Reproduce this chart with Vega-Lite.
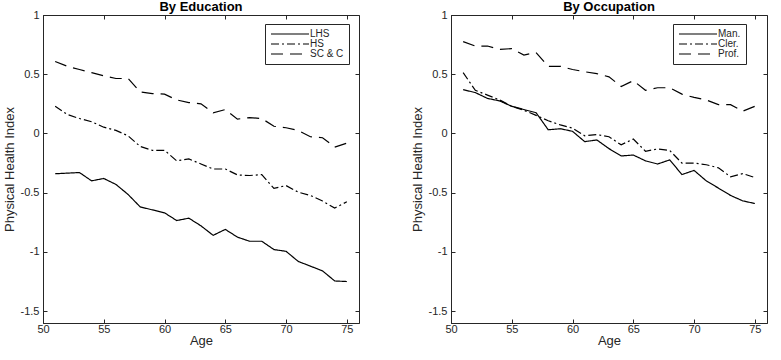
{
  "$schema": "https://vega.github.io/schema/vega-lite/v6.json",
  "padding": {"left": 2, "top": 0, "right": 2, "bottom": 0},
  "autosize": {"type": "pad"},
  "spacing": 50,
  "config": {
    "font": "Liberation Sans",
    "view": {"stroke": "#262626", "strokeWidth": 1},
    "axis": {"grid": false, "minExtent": 0, "domainColor": "#262626", "tickColor": "#262626", "labelColor": "#262626", "titleColor": "#262626", "labelFontSize": 11, "titleFontSize": 13, "titleFontWeight": "normal", "tickSize": -4, "labelPadding": 8, "labelFlush": false},
    "axisX": {"labelPadding": 4, "titlePadding": 0},
    "title": {"fontSize": 13, "fontWeight": "bold", "offset": -5, "color": "#000000"},
    "legend": {"orient": "none", "legendX": 222, "legendY": 9, "strokeColor": "#262626", "fillColor": "white", "padding": 5, "symbolType": "M-1,0H8.5", "symbolStrokeColor": "black", "symbolFillColor": "transparent", "symbolSize": 64, "symbolOffset": 0, "labelOffset": 30, "symbolStrokeWidth": 1.2, "labelFontSize": 10, "labelColor": "#262626", "rowPadding": 0}
  },
  "datasets": {
    "edu": [
      {"group": "LHS", "age": 51, "index": -0.34}, {"group": "LHS", "age": 52, "index": -0.335}, {"group": "LHS", "age": 53, "index": -0.33}, {"group": "LHS", "age": 54, "index": -0.40}, {"group": "LHS", "age": 55, "index": -0.38}, {"group": "LHS", "age": 56, "index": -0.43}, {"group": "LHS", "age": 57, "index": -0.515}, {"group": "LHS", "age": 58, "index": -0.62}, {"group": "LHS", "age": 59, "index": -0.645}, {"group": "LHS", "age": 60, "index": -0.67}, {"group": "LHS", "age": 61, "index": -0.735}, {"group": "LHS", "age": 62, "index": -0.715}, {"group": "LHS", "age": 63, "index": -0.78}, {"group": "LHS", "age": 64, "index": -0.86}, {"group": "LHS", "age": 65, "index": -0.81}, {"group": "LHS", "age": 66, "index": -0.875}, {"group": "LHS", "age": 67, "index": -0.91}, {"group": "LHS", "age": 68, "index": -0.91}, {"group": "LHS", "age": 69, "index": -0.98}, {"group": "LHS", "age": 70, "index": -0.995}, {"group": "LHS", "age": 71, "index": -1.08}, {"group": "LHS", "age": 72, "index": -1.12}, {"group": "LHS", "age": 73, "index": -1.16}, {"group": "LHS", "age": 74, "index": -1.245}, {"group": "LHS", "age": 75, "index": -1.25},
      {"group": "HS", "age": 51, "index": 0.229}, {"group": "HS", "age": 52, "index": 0.16}, {"group": "HS", "age": 53, "index": 0.126}, {"group": "HS", "age": 54, "index": 0.099}, {"group": "HS", "age": 55, "index": 0.053}, {"group": "HS", "age": 56, "index": 0.026}, {"group": "HS", "age": 57, "index": -0.02}, {"group": "HS", "age": 58, "index": -0.11}, {"group": "HS", "age": 59, "index": -0.142}, {"group": "HS", "age": 60, "index": -0.142}, {"group": "HS", "age": 61, "index": -0.231}, {"group": "HS", "age": 62, "index": -0.215}, {"group": "HS", "age": 63, "index": -0.258}, {"group": "HS", "age": 64, "index": -0.30}, {"group": "HS", "age": 65, "index": -0.30}, {"group": "HS", "age": 66, "index": -0.35}, {"group": "HS", "age": 67, "index": -0.355}, {"group": "HS", "age": 68, "index": -0.347}, {"group": "HS", "age": 69, "index": -0.464}, {"group": "HS", "age": 70, "index": -0.44}, {"group": "HS", "age": 71, "index": -0.496}, {"group": "HS", "age": 72, "index": -0.523}, {"group": "HS", "age": 73, "index": -0.57}, {"group": "HS", "age": 74, "index": -0.63}, {"group": "HS", "age": 75, "index": -0.577},
      {"group": "SC & C", "age": 51, "index": 0.608}, {"group": "SC & C", "age": 52, "index": 0.567}, {"group": "SC & C", "age": 53, "index": 0.54}, {"group": "SC & C", "age": 54, "index": 0.513}, {"group": "SC & C", "age": 55, "index": 0.486}, {"group": "SC & C", "age": 56, "index": 0.464}, {"group": "SC & C", "age": 57, "index": 0.464}, {"group": "SC & C", "age": 58, "index": 0.35}, {"group": "SC & C", "age": 59, "index": 0.337}, {"group": "SC & C", "age": 60, "index": 0.332}, {"group": "SC & C", "age": 61, "index": 0.283}, {"group": "SC & C", "age": 62, "index": 0.261}, {"group": "SC & C", "age": 63, "index": 0.25}, {"group": "SC & C", "age": 64, "index": 0.175}, {"group": "SC & C", "age": 65, "index": 0.202}, {"group": "SC & C", "age": 66, "index": 0.121}, {"group": "SC & C", "age": 67, "index": 0.134}, {"group": "SC & C", "age": 68, "index": 0.126}, {"group": "SC & C", "age": 69, "index": 0.061}, {"group": "SC & C", "age": 70, "index": 0.048}, {"group": "SC & C", "age": 71, "index": 0.026}, {"group": "SC & C", "age": 72, "index": -0.028}, {"group": "SC & C", "age": 73, "index": -0.036}, {"group": "SC & C", "age": 74, "index": -0.115}, {"group": "SC & C", "age": 75, "index": -0.082}
    ],
    "occ": [
      {"group": "Man.", "age": 51, "index": 0.37}, {"group": "Man.", "age": 52, "index": 0.345}, {"group": "Man.", "age": 53, "index": 0.296}, {"group": "Man.", "age": 54, "index": 0.275}, {"group": "Man.", "age": 55, "index": 0.229}, {"group": "Man.", "age": 56, "index": 0.202}, {"group": "Man.", "age": 57, "index": 0.175}, {"group": "Man.", "age": 58, "index": 0.031}, {"group": "Man.", "age": 59, "index": 0.04}, {"group": "Man.", "age": 60, "index": 0.018}, {"group": "Man.", "age": 61, "index": -0.069}, {"group": "Man.", "age": 62, "index": -0.055}, {"group": "Man.", "age": 63, "index": -0.128}, {"group": "Man.", "age": 64, "index": -0.19}, {"group": "Man.", "age": 65, "index": -0.182}, {"group": "Man.", "age": 66, "index": -0.231}, {"group": "Man.", "age": 67, "index": -0.258}, {"group": "Man.", "age": 68, "index": -0.223}, {"group": "Man.", "age": 69, "index": -0.347}, {"group": "Man.", "age": 70, "index": -0.312}, {"group": "Man.", "age": 71, "index": -0.40}, {"group": "Man.", "age": 72, "index": -0.461}, {"group": "Man.", "age": 73, "index": -0.523}, {"group": "Man.", "age": 74, "index": -0.569}, {"group": "Man.", "age": 75, "index": -0.591},
      {"group": "Cler.", "age": 51, "index": 0.513}, {"group": "Cler.", "age": 52, "index": 0.364}, {"group": "Cler.", "age": 53, "index": 0.324}, {"group": "Cler.", "age": 54, "index": 0.283}, {"group": "Cler.", "age": 55, "index": 0.229}, {"group": "Cler.", "age": 56, "index": 0.196}, {"group": "Cler.", "age": 57, "index": 0.153}, {"group": "Cler.", "age": 58, "index": 0.107}, {"group": "Cler.", "age": 59, "index": 0.072}, {"group": "Cler.", "age": 60, "index": 0.045}, {"group": "Cler.", "age": 61, "index": -0.02}, {"group": "Cler.", "age": 62, "index": -0.009}, {"group": "Cler.", "age": 63, "index": -0.028}, {"group": "Cler.", "age": 64, "index": -0.096}, {"group": "Cler.", "age": 65, "index": -0.047}, {"group": "Cler.", "age": 66, "index": -0.15}, {"group": "Cler.", "age": 67, "index": -0.131}, {"group": "Cler.", "age": 68, "index": -0.144}, {"group": "Cler.", "age": 69, "index": -0.25}, {"group": "Cler.", "age": 70, "index": -0.25}, {"group": "Cler.", "age": 71, "index": -0.264}, {"group": "Cler.", "age": 72, "index": -0.29}, {"group": "Cler.", "age": 73, "index": -0.366}, {"group": "Cler.", "age": 74, "index": -0.339}, {"group": "Cler.", "age": 75, "index": -0.372},
      {"group": "Prof.", "age": 51, "index": 0.775}, {"group": "Prof.", "age": 52, "index": 0.738}, {"group": "Prof.", "age": 53, "index": 0.738}, {"group": "Prof.", "age": 54, "index": 0.71}, {"group": "Prof.", "age": 55, "index": 0.716}, {"group": "Prof.", "age": 56, "index": 0.662}, {"group": "Prof.", "age": 57, "index": 0.683}, {"group": "Prof.", "age": 58, "index": 0.567}, {"group": "Prof.", "age": 59, "index": 0.567}, {"group": "Prof.", "age": 60, "index": 0.54}, {"group": "Prof.", "age": 61, "index": 0.521}, {"group": "Prof.", "age": 62, "index": 0.505}, {"group": "Prof.", "age": 63, "index": 0.478}, {"group": "Prof.", "age": 64, "index": 0.397}, {"group": "Prof.", "age": 65, "index": 0.446}, {"group": "Prof.", "age": 66, "index": 0.364}, {"group": "Prof.", "age": 67, "index": 0.386}, {"group": "Prof.", "age": 68, "index": 0.386}, {"group": "Prof.", "age": 69, "index": 0.332}, {"group": "Prof.", "age": 70, "index": 0.304}, {"group": "Prof.", "age": 71, "index": 0.283}, {"group": "Prof.", "age": 72, "index": 0.243}, {"group": "Prof.", "age": 73, "index": 0.243}, {"group": "Prof.", "age": 74, "index": 0.188}, {"group": "Prof.", "age": 75, "index": 0.229}
    ]
  },
  "hconcat": [
    {
      "width": 316, "height": 308,
      "title": "By Education",
      "data": {"name": "edu"},
      "layer": [
        {
          "mark": {"type": "line", "color": "black", "strokeWidth": 1.2},
          "encoding": {
            "x": {"field": "age", "type": "quantitative", "scale": {"domain": [50, 75]}, "axis": {"values": [50, 55, 60, 65, 70, 75], "title": "Age", "labelExpr": "datum.value + ''"}},
            "y": {"field": "index", "type": "quantitative", "scale": {"domain": [-1.5, 1]}, "axis": {"values": [-1.5, -1, -0.5, 0, 0.5, 1], "title": "Physical Health Index", "labelExpr": "datum.value + ''"}},
            "strokeDash": {"field": "group", "type": "nominal", "scale": {"domain": ["LHS", "HS", "SC & C"], "range": [[1, 0], [8, 3, 2, 3], [12, 7]]}, "legend": {"title": null}}
          }
        },
        {
          "mark": {"type": "line", "opacity": 0},
          "encoding": {
            "x": {"field": "age", "type": "quantitative", "axis": {"orient": "top", "values": [50, 55, 60, 65, 70, 75], "labels": false, "title": null, "domain": false}},
            "y": {"field": "index", "type": "quantitative", "axis": {"orient": "right", "values": [-1.5, -1, -0.5, 0, 0.5, 1], "labels": false, "title": null, "domain": false}},
            "detail": {"field": "group"}
          }
        }
      ],
      "resolve": {"axis": {"x": "independent", "y": "independent"}}
    },
    {
      "width": 316, "height": 308,
      "title": "By Occupation",
      "data": {"name": "occ"},
      "layer": [
        {
          "mark": {"type": "line", "color": "black", "strokeWidth": 1.2},
          "encoding": {
            "x": {"field": "age", "type": "quantitative", "scale": {"domain": [50, 75]}, "axis": {"values": [50, 55, 60, 65, 70, 75], "title": "Age", "labelExpr": "datum.value + ''"}},
            "y": {"field": "index", "type": "quantitative", "scale": {"domain": [-1.5, 1]}, "axis": {"values": [-1.5, -1, -0.5, 0, 0.5, 1], "title": "Physical Health Index", "labelExpr": "datum.value + ''"}},
            "strokeDash": {"field": "group", "type": "nominal", "scale": {"domain": ["Man.", "Cler.", "Prof."], "range": [[1, 0], [8, 3, 2, 3], [12, 7]]}, "legend": {"title": null}}
          }
        },
        {
          "mark": {"type": "line", "opacity": 0},
          "encoding": {
            "x": {"field": "age", "type": "quantitative", "axis": {"orient": "top", "values": [50, 55, 60, 65, 70, 75], "labels": false, "title": null, "domain": false}},
            "y": {"field": "index", "type": "quantitative", "axis": {"orient": "right", "values": [-1.5, -1, -0.5, 0, 0.5, 1], "labels": false, "title": null, "domain": false}},
            "detail": {"field": "group"}
          }
        }
      ],
      "resolve": {"axis": {"x": "independent", "y": "independent"}}
    }
  ],
  "resolve": {"scale": {"strokeDash": "independent"}, "legend": {"strokeDash": "independent"}}
}
